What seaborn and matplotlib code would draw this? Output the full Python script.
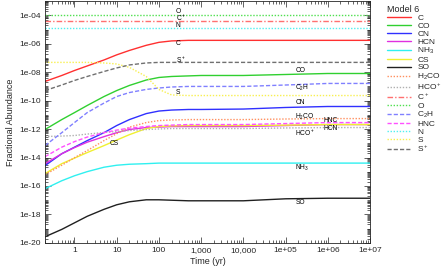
import numpy as np
import pandas as pd
import matplotlib
matplotlib.use("Agg")
import matplotlib.pyplot as plt
import matplotlib.ticker as mticker
import seaborn as sns

# time grid (yr) and log10 fractional abundances
times = [0.2, 0.5, 1, 2, 5, 10, 20, 50, 100, 200, 500, 1e3, 1e4, 1e5, 1e6, 1e7]

C    = [-8.65, -8.23, -7.88, -7.56, -7.14, -6.78, -6.47, -6.11, -5.90, -5.80, -5.76, -5.76, -5.76, -5.76, -5.76, -5.76]
CO   = [-12.03, -11.33, -10.84, -10.34, -9.71, -9.29, -8.93, -8.55, -8.37, -8.30, -8.26, -8.23, -8.23, -8.16, -8.09, -8.09]
CN   = [-14.57, -13.73, -13.27, -12.81, -12.25, -11.75, -11.33, -10.91, -10.73, -10.66, -10.62, -10.62, -10.59, -10.48, -10.41, -10.41]
HCN  = [-14.43, -13.73, -13.30, -12.92, -12.53, -12.25, -12.03, -11.89, -11.86, -11.82, -11.82, -11.82, -11.82, -11.75, -11.68, -11.68]
NH3  = [-16.19, -15.63, -15.28, -14.99, -14.68, -14.54, -14.47, -14.43, -14.39, -14.39, -14.39, -14.39, -14.39, -14.39, -14.39, -14.39]
CS   = [-15.13, -14.43, -14.04, -13.65, -13.16, -12.77, -12.39, -11.96, -11.82, -11.77, -11.75, -11.75, -11.75, -11.72, -11.68, -11.68]
SO   = [-19.57, -19.05, -18.59, -18.13, -17.64, -17.32, -17.11, -16.97, -16.97, -17.00, -17.04, -17.04, -17.04, -16.90, -16.86, -16.86]
H2CO = [-15.21, -14.54, -14.01, -13.51, -12.81, -12.32, -11.86, -11.54, -11.40, -11.36, -11.33, -11.33, -11.33, -11.29, -11.26, -11.26]
HCOp = [-12.52, -12.49, -12.45, -12.35, -12.24, -12.17, -12.10, -12.03, -11.99, -11.96, -11.96, -11.96, -11.96, -11.92, -11.89, -11.89]
Cp   = [-4.42, -4.42, -4.42, -4.42, -4.42, -4.42, -4.42, -4.42, -4.42, -4.42, -4.42, -4.42, -4.42, -4.42, -4.42, -4.42]
O    = [-4.00, -4.00, -4.00, -4.00, -4.00, -4.00, -4.00, -4.00, -4.00, -4.00, -4.00, -4.00, -4.00, -4.00, -4.00, -4.00]
C2H  = [-13.16, -12.25, -11.54, -10.84, -10.17, -9.71, -9.43, -9.21, -9.11, -9.04, -9.00, -9.00, -9.00, -8.90, -8.79, -8.79]
HNC  = [-13.94, -13.27, -12.88, -12.56, -12.25, -12.07, -11.93, -11.82, -11.75, -11.72, -11.68, -11.68, -11.68, -11.61, -11.54, -11.54]
N    = [-4.92, -4.92, -4.92, -4.92, -4.92, -4.92, -4.92, -4.92, -4.92, -4.92, -4.92, -4.92, -4.92, -4.92, -4.92, -4.92]
S    = [-7.31, -7.31, -7.31, -7.31, -7.35, -7.42, -7.66, -8.30, -9.21, -9.60, -9.64, -9.64, -9.64, -9.64, -9.64, -9.64]
Sp   = [-9.29, -8.90, -8.58, -8.30, -7.95, -7.70, -7.49, -7.35, -7.31, -7.31, -7.31, -7.31, -7.31, -7.31, -7.31, -7.31]

species = ['C', 'CO', 'CN', 'HCN', r'NH$_3$', 'CS', 'SO', r'H$_2$CO', r'HCO$^+$',
           r'C$^+$', 'O', r'C$_2$H', 'HNC', 'N', 'S', r'S$^+$']
series = [C, CO, CN, HCN, NH3, CS, SO, H2CO, HCOp, Cp, O, C2H, HNC, N, S, Sp]

xtick_vals = [1, 10, 100, 1000, 1e4, 1e5, 1e6, 1e7]
xtick_labels = ['1', '10', '100', '1,000', '10,000', '1e+05', '1e+06', '1e+07']

colors = ['#ff3030', '#30d030', '#3030ff', '#e030e0', '#30f0f0', '#f0f030', '#202020',
          '#ff9060', '#b0b0b0', '#ff7070', '#50e050', '#8080ff', '#ff50ff', '#50f0f0',
          '#f8f050', '#707070']
dot = (1, 1.2)
dash = (3, 1.5)
dashes = ['', '', '', '', '', '', '', dot, dot, (4, 1.5, 1, 1.5), dot, dash, dash, dot, dot, dash]

rows = []
for name, vals in zip(species, series):
    for t, v in zip(times, vals):
        rows.append((name, t, 10 ** v))
df = pd.DataFrame(rows, columns=['species', 'time', 'abundance'])

sns.set_style('ticks')
plt.rcParams['font.family'] = ['Liberation Sans', 'DejaVu Sans']
plt.rcParams['mathtext.default'] = 'regular'

fig = plt.figure(figsize=(4.41, 2.72), dpi=100)
ax = fig.add_axes([0.102, 0.107, 0.737, 0.889])

sns.lineplot(data=df, x='time', y='abundance', hue='species', style='species',
             hue_order=species, style_order=species,
             palette=dict(zip(species, colors)), dashes=dict(zip(species, dashes)),
             linewidth=1.0, ax=ax)

ax.set_xscale('log')
ax.set_yscale('log')
ax.set_xlim(0.2, 1e7)
ax.set_ylim(1e-20, 1e-3)

ax.xaxis.set_major_locator(mticker.FixedLocator(xtick_vals))
ax.xaxis.set_major_formatter(mticker.FixedFormatter(xtick_labels))
ax.xaxis.set_minor_locator(mticker.LogLocator(base=10, subs=np.arange(2, 10), numticks=50))
ax.xaxis.set_minor_formatter(mticker.NullFormatter())
ax.yaxis.set_major_locator(mticker.FixedLocator([10.0 ** e for e in range(-20, -3, 2)]))
ax.yaxis.set_major_formatter(mticker.FuncFormatter(lambda v, p: '1e-%02d' % round(-np.log10(v))))
ax.yaxis.set_minor_locator(mticker.LogLocator(base=10, subs=np.arange(1, 10), numticks=50))
ax.yaxis.set_minor_formatter(mticker.NullFormatter())
ax.tick_params(which='both', direction='in', top=True, right=True, labelsize=6, width=0.5, pad=3)
ax.tick_params(which='major', length=4)
ax.tick_params(which='minor', length=2)
for s in ax.spines.values():
    s.set_linewidth(0.6)

ax.set_xlabel('Time (yr)', fontsize=6.5, labelpad=2)
ax.set_ylabel('Fractional Abundance', fontsize=6.5, labelpad=3)

# inline species labels
notes = [('O', 250, -3.70), (r'C$^+$', 250, -4.20), ('N', 250, -4.73), ('C', 250, -5.97),
         (r'S$^+$', 250, -7.1), ('S', 250, -9.42), ('CO', 1.7e5, -7.87), (r'C$_2$H', 1.7e5, -9.07),
         ('CN', 1.7e5, -10.13), (r'H$_2$CO', 1.7e5, -11.11), ('HNC', 7.8e5, -11.39),
         ('HCN', 7.8e5, -11.96), (r'HCO$^+$', 1.7e5, -12.24), (r'NH$_3$', 1.7e5, -14.7),
         ('SO', 1.7e5, -17.17), ('CS', 6.8, -13.0)]
for txt, x, y in notes:
    ax.text(x, 10 ** y, txt, fontsize=4.8, ha='left', va='center', color='black')

handles, labels = ax.get_legend_handles_labels()
ax.legend(handles, labels, title='Model 6', loc='upper left', bbox_to_anchor=(1.04, 1.0),
          frameon=False, fontsize=6, title_fontsize=6.5, handlelength=2.9,
          labelspacing=0.0, borderaxespad=0.2, handletextpad=0.7, borderpad=0.3,
          alignment='left')

fig.savefig('out.png', dpi=100)
